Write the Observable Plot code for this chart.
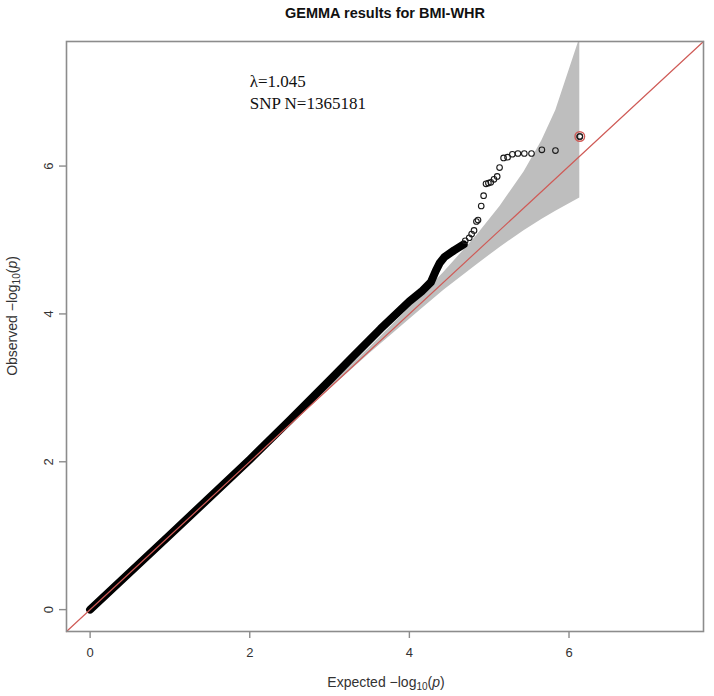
<!DOCTYPE html>
<html>
<head>
<meta charset="utf-8">
<script src="https://cdn.jsdelivr.net/npm/d3@7"></script>
<script src="https://cdn.jsdelivr.net/npm/@observablehq/plot@0.6"></script>
<style>
  html, body { margin: 0; padding: 0; background: #fff; }
  #chart svg { display: block; }
</style>
</head>
<body>
<div id="chart"></div>
<script>
// ---- Data ----
const titleText = "GEMMA results for BMI-WHR";
const annotationLines = ["λ=1.045", "SNP N=1365181"];
const axisTicks = [0, 2, 4, 6];
const axisDomain = [-0.296, 7.685];

// dense body of the QQ cloud (drawn as a thick band)
const bodyExpected = [0, 1, 2, 2.5, 3, 3.3, 3.64, 4.0, 4.15, 4.27, 4.33, 4.38, 4.44, 4.56, 4.68];
const bodyObserved = [0, 1.01, 2.03, 2.56, 3.1, 3.43, 3.8, 4.17, 4.3, 4.43, 4.58, 4.69, 4.77, 4.86, 4.94];

// sparse tail points (open circles)
const tailExpected = [4.70, 4.75, 4.78, 4.81, 4.84, 4.86, 4.90, 4.93, 4.96, 4.99, 5.02, 5.06, 5.10, 5.13, 5.18, 5.23, 5.29, 5.36, 5.44, 5.53, 5.66, 5.83, 6.135];
const tailObserved = [4.99, 5.03, 5.08, 5.13, 5.25, 5.27, 5.46, 5.60, 5.76, 5.77, 5.78, 5.82, 5.86, 5.98, 6.11, 6.12, 6.16, 6.17, 6.17, 6.17, 6.22, 6.21, 6.40];

// highlighted top SNP
const topSnpExpected = [6.135];
const topSnpObserved = [6.40];

// confidence band
const ciExpected = [0, 2.135, 3.135, 3.5, 4.135, 4.436, 4.834, 5.135, 5.436, 5.658, 5.834, 6.135];
const ciLower    = [0, 2.127, 3.109, 3.461, 4.05, 4.323, 4.656, 4.90, 5.125, 5.276, 5.389, 5.568];
const ciUpper    = [0, 2.144, 3.163, 3.543, 4.224, 4.566, 5.048, 5.454, 5.92, 6.34, 6.75, 7.73];

// ---- Build tables ----
const bodyData = bodyExpected.map((x, i) => ({x, y: bodyObserved[i]}));
const tailData = tailExpected.map((x, i) => ({x, y: tailObserved[i]}));
const topSnpData = topSnpExpected.map((x, i) => ({x, y: topSnpObserved[i]}));
const ciData = ciExpected.map((x, i) => ({x, lo: ciLower[i], hi: ciUpper[i]}));
const diagData = axisDomain;

const axisGray = "#8c8c8c";
const redLine = "#cf5b57";
const sans = "'Liberation Sans', Arial, Helvetica, sans-serif";

const chart = Plot.plot({
  width: 714,
  height: 696,
  marginLeft: 66,
  marginRight: 11,
  marginTop: 41,
  marginBottom: 65,
  style: {fontFamily: sans, fontSize: "13px", color: "#333", background: "#fff"},
  x: {domain: axisDomain, label: null},
  y: {domain: axisDomain, label: null},
  marks: [
    Plot.areaY(ciData, {x: "x", y1: "lo", y2: "hi", fill: "#bebebe", clip: true}),
    Plot.line(bodyData, {x: "x", y: "y", stroke: "#000", strokeWidth: 8, strokeLinecap: "round", strokeLinejoin: "round"}),
    Plot.dot(tailData, {x: "x", y: "y", r: 2.8, stroke: "#1a1a1a", strokeWidth: 1.1, fill: "none"}),
    Plot.dot(topSnpData, {x: "x", y: "y", r: 2.8, stroke: "#1a1a1a", strokeWidth: 1.1, fill: "none"}),
    Plot.dot(topSnpData, {x: "x", y: "y", r: 4.8, stroke: redLine, strokeWidth: 1.4, fill: "none"}),
    Plot.line(diagData, {x: d => d, y: d => d, stroke: redLine, strokeWidth: 1.2}),
    Plot.frame({stroke: axisGray, strokeWidth: 1.6}),
    Plot.axisX({ticks: axisTicks, tickSize: 7, tickPadding: 9, stroke: axisGray, strokeWidth: 1.4, fill: "#333", fontSize: 13, label: null}),
    Plot.axisY({ticks: axisTicks, tickSize: 7, tickPadding: 7, tickRotate: -90, stroke: axisGray, strokeWidth: 1.4, fill: "#333", fontSize: 13, label: null}),
    Plot.text([titleText], {frameAnchor: "top", dy: -34, text: d => d, fontWeight: "bold", fontSize: 14.5, fill: "#111", fontFamily: sans}),
    Plot.text([annotationLines[0]], {x: 2.0, y: 7.15, text: d => d, textAnchor: "start", fontFamily: "'Liberation Serif', 'Times New Roman', serif", fontSize: 17, fill: "#111"}),
    Plot.text([annotationLines[1]], {x: 2.0, y: 6.84, text: d => d, textAnchor: "start", fontFamily: "'Liberation Serif', 'Times New Roman', serif", fontSize: 17, fill: "#111"})
  ]
});

document.getElementById("chart").appendChild(chart);

// axis titles with subscript and italic p
const svgSel = d3.select(chart);
function addLabel(prefix, x, y, rotate) {
  const t = svgSel.append("text")
    .attr("font-family", sans)
    .attr("font-size", 14)
    .attr("fill", "#333")
    .attr("text-anchor", "middle")
    .attr("transform", `translate(${x},${y})` + (rotate ? ` rotate(${rotate})` : ""));
  t.append("tspan").text(prefix + " \u2212log");
  t.append("tspan").attr("font-size", 10).attr("dy", 3).text("10");
  t.append("tspan").attr("dy", -3).text("(");
  t.append("tspan").attr("font-style", "italic").text("p");
  t.append("tspan").text(")");
}
addLabel("Expected", 386, 687, 0);
addLabel("Observed", 17, 316, -90);
</script>
</body>
</html>
